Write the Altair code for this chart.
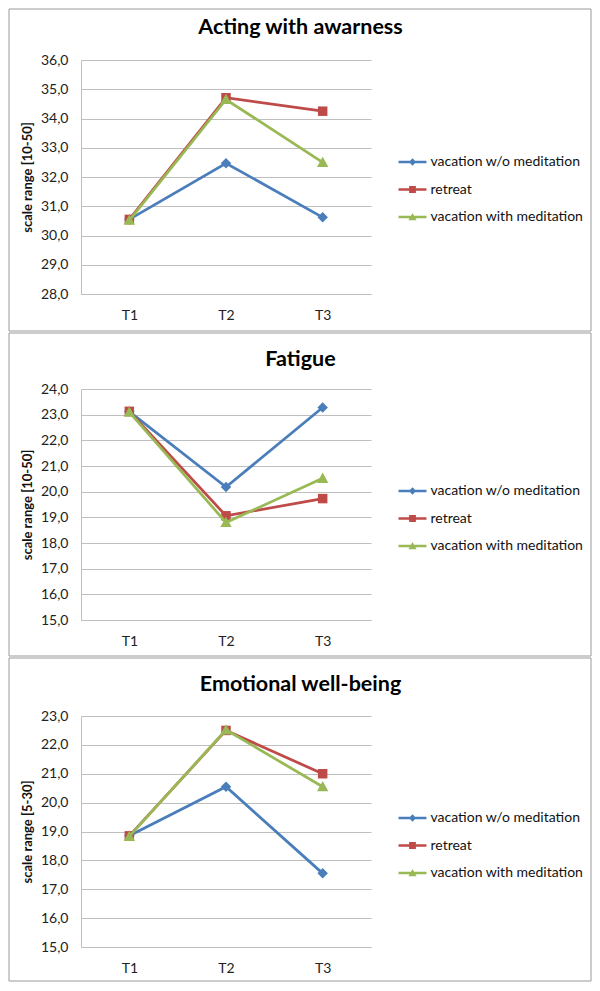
import altair as alt
import pandas as pd

times = ["T1", "T2", "T3"]
series = ["vacation w/o meditation", "retreat", "vacation with meditation"]
colors = ["#4A7EBB", "#BE4B48", "#98B954"]

panel_titles = ["Acting with awarness", "Fatigue", "Emotional well-being"]
y_titles = ["scale range [10-50]", "scale range [10-50]", "scale range [5-30]"]
y_domains = [[28, 36], [15, 24], [15, 23]]

acting_wo = [30.55, 32.47, 30.62]
acting_retreat = [30.55, 34.71, 34.25]
acting_with = [30.52, 34.65, 32.50]

fatigue_wo = [23.12, 20.18, 23.28]
fatigue_retreat = [23.13, 19.06, 19.73]
fatigue_with = [23.10, 18.80, 20.52]

emo_wo = [18.85, 20.55, 17.55]
emo_retreat = [18.85, 22.50, 21.00]
emo_with = [18.83, 22.52, 20.55]

panel_values = [
    [acting_wo, acting_retreat, acting_with],
    [fatigue_wo, fatigue_retreat, fatigue_with],
    [emo_wo, emo_retreat, emo_with],
]

point_shapes = ["M0,-1L1,0L0,1L-1,0Z", "M-1,-1H1V1H-1Z", "M0,-1L1,0.8L-1,0.8Z"]
point_sizes = [110, 90, 130]
legend_shapes = [
    "M-1.27,-0.114H1.27V0.114H-1.27Z M0,-0.33L0.33,0L0,0.33L-0.33,0Z",
    "M-1.27,-0.114H1.27V0.114H-1.27Z M-0.31,-0.31H0.31V0.31H-0.31Z",
    "M-1.27,-0.114H1.27V0.114H-1.27Z M0,-0.36L0.37,0.3L-0.37,0.3Z",
]

FONT = "Lato"
W = 290
layouts = [
    dict(h=234, top=-51, bottom=271, ty=-32, ly=91),
    dict(h=231, top=-56, bottom=267, ty=-29, ly=91),
    dict(h=231, top=-58, bottom=265, ty=-31, ly=91),
]


def make_panel(i):
    lay = layouts[i]
    rows = []
    for s, vals in zip(series, panel_values[i]):
        for t, v in zip(times, vals):
            rows.append({"time": t, "series": s, "value": v})
    df = pd.DataFrame(rows)
    lo, hi = y_domains[i]
    ticks = list(range(lo, hi + 1))

    x_enc = alt.X(
        "time:N",
        sort=times,
        scale=alt.Scale(type="point", padding=0.5),
        axis=alt.Axis(
            title=None, labelAngle=0, ticks=False, grid=False, domainColor="#bfbfbf",
            labelPadding=14, labelFont=FONT, labelFontSize=14, labelColor="#222",
        ),
    )
    y_enc = alt.Y(
        "value:Q",
        scale=alt.Scale(domain=[lo, hi], nice=False, zero=False),
        axis=alt.Axis(
            values=ticks,
            labelExpr="replace(format(datum.value, '.1f'), '.', ',')",
            grid=True, gridColor="#bfbfbf", domainColor="#bfbfbf", ticks=False,
            labelPadding=13, labelFont=FONT, labelFontSize=14, labelColor="#222",
            title=y_titles[i], titleFont=FONT, titleFontSize=13, titleFontWeight="bold",
            titleColor="#111", titlePadding=6,
        ),
    )

    frame = alt.Chart(pd.DataFrame({"k": [0]})).mark_rect(
        fillOpacity=0, stroke="#9a9a9a", strokeWidth=1
    ).encode(
        x=alt.value(-72), x2=alt.value(W + 220), y=alt.value(lay["top"]), y2=alt.value(lay["bottom"])
    )
    title = alt.Chart(pd.DataFrame({"t": [panel_titles[i]]})).mark_text(
        font=FONT, fontSize=21.5, fontWeight="bold", color="#000", align="center", baseline="middle"
    ).encode(text="t:N", x=alt.value(219.5), y=alt.value(lay["ty"]))

    layers = [frame, title]
    for k, s in enumerate(series):
        sub = alt.Chart(df).transform_filter(alt.datum.series == s)
        layers.append(
            sub.mark_line(color=colors[k], strokeWidth=2.75).encode(x=x_enc, y=y_enc)
        )
        layers.append(
            sub.mark_point(
                shape=point_shapes[k], size=point_sizes[k], filled=True, opacity=1,
                color=colors[k], strokeWidth=0,
            ).encode(x=x_enc, y=y_enc)
        )

    legend = alt.Legend(
        orient="none", legendX=320.5, legendY=lay["ly"], title=None,
        symbolSize=484, symbolStrokeWidth=0, labelOffset=7, rowPadding=9.5,
        labelFont=FONT, labelFontSize=14, labelColor="#111", labelLimit=300,
        padding=0, symbolOffset=0,
    )
    legend_layer = alt.Chart(df).transform_filter("false").mark_point(
        filled=True, opacity=1, strokeWidth=0
    ).encode(
        x=x_enc, y=y_enc,
        color=alt.Color("series:N", scale=alt.Scale(domain=series, range=colors), legend=legend),
        shape=alt.Shape("series:N", scale=alt.Scale(domain=series, range=legend_shapes), legend=legend),
    )
    layers.append(legend_layer)

    return alt.layer(*layers).properties(width=W, height=lay["h"])


chart = alt.vconcat(*[make_panel(i) for i in range(3)], spacing=0).resolve_scale(
    color="independent", shape="independent"
).resolve_legend(color="independent", shape="independent").properties(
    padding=0, background="white"
).configure_view(stroke=None)

chart.save("out.html", embed_options={"renderer": "svg", "actions": False})
